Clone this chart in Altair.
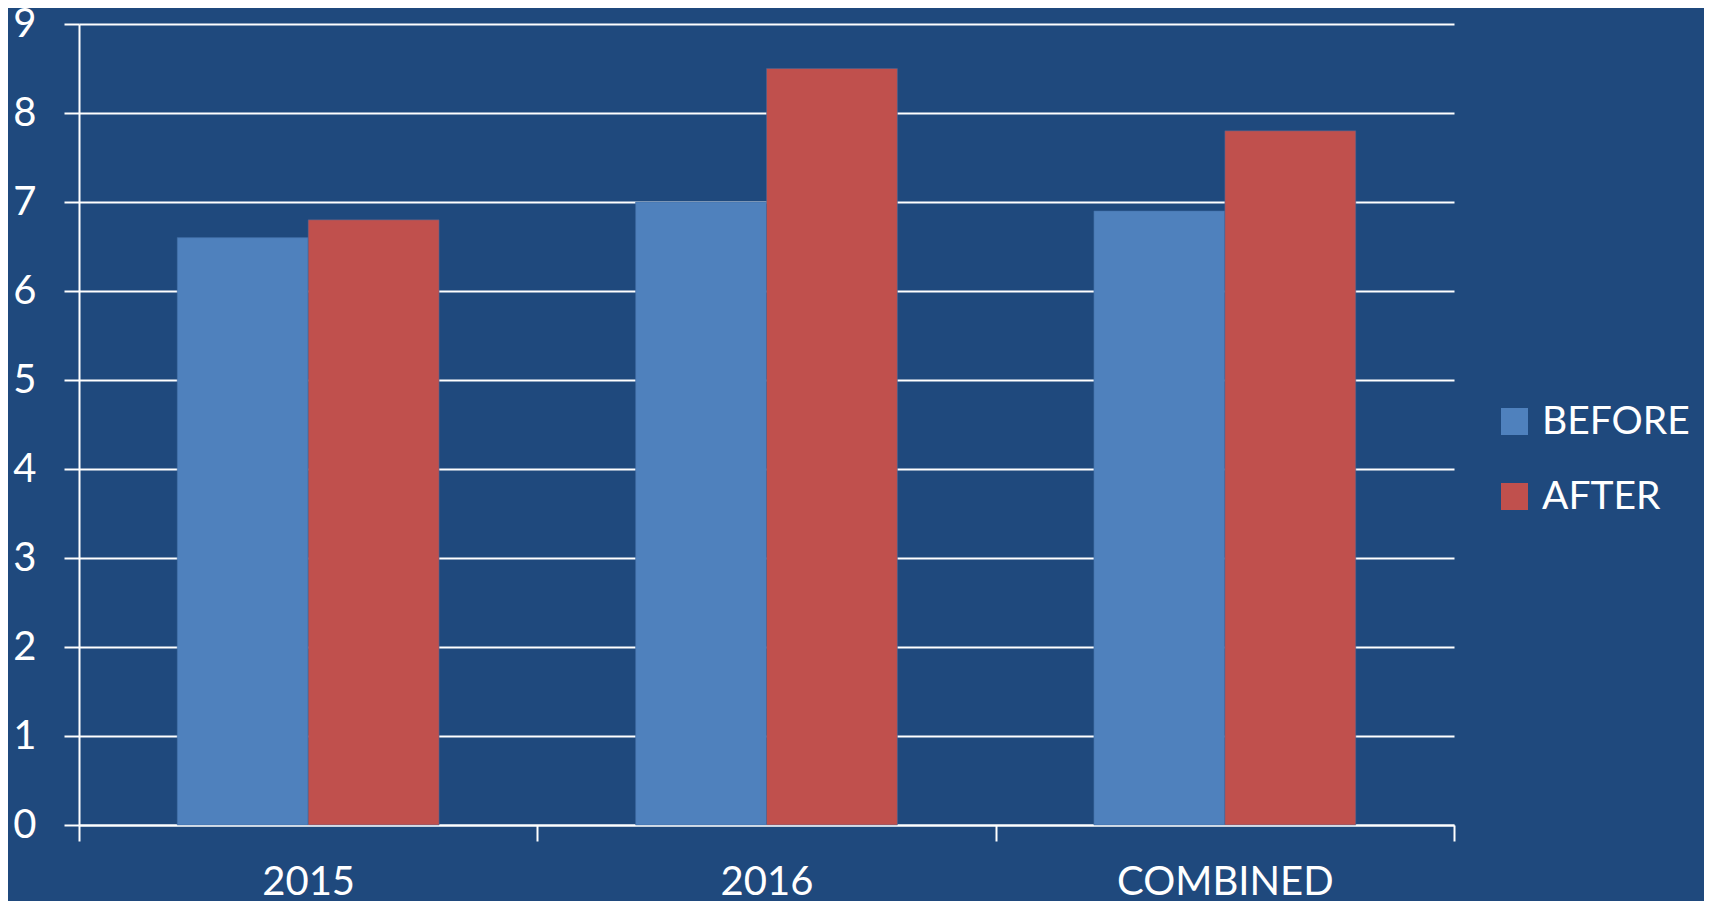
import altair as alt
import pandas as pd

categories = ["2015", "2016", "COMBINED"]
series = ["BEFORE", "AFTER"]
before_values = [6.6, 7.0, 6.9]
after_values = [6.8, 8.5, 7.8]
colors = ["#4F81BD", "#C0504D"]

rows = []
for c, b, a in zip(categories, before_values, after_values):
    rows.append({"category": c, "series": "BEFORE", "value": b})
    rows.append({"category": c, "series": "AFTER", "value": a})
df = pd.DataFrame(rows)

FONT = "Lato"
BG = "#1F497D"

chart = alt.Chart(df).mark_bar(stroke="#3d6aa0", strokeWidth=0.8, strokeOpacity=0.6).encode(
    x=alt.X("category:N", sort=categories, title=None,
            scale=alt.Scale(paddingInner=0, paddingOuter=0),
            axis=alt.Axis(labelAngle=0, tickBand="extent", tickSize=16, tickColor="white",
                          tickWidth=2, domainColor="white", domainWidth=2,
                          labelColor="white", labelFontSize=40, labelFont=FONT,
                          labelPadding=21, labelLimit=500, grid=False)),
    xOffset=alt.XOffset("series:N", sort=series,
                        scale=alt.Scale(paddingInner=0, paddingOuter=0.75)),
    y=alt.Y("value:Q", title=None,
            scale=alt.Scale(domain=[0, 9], nice=False),
            axis=alt.Axis(values=list(range(0, 10)), tickSize=15, tickColor="white",
                          tickWidth=2, domainColor="white", domainWidth=2,
                          gridColor="white", gridWidth=2, gridOpacity=1,
                          labelColor="white", labelFontSize=40, labelFont=FONT,
                          labelPadding=28)),
    color=alt.Color("series:N", sort=series,
                    scale=alt.Scale(domain=series, range=colors),
                    legend=alt.Legend(title=None, orient="none", legendX=1416, legendY=378,
                                      symbolType="square", symbolSize=729,
                                      symbolStrokeWidth=0, labelColor="white",
                                      labelFontSize=39, labelFont=FONT, labelOffset=8,
                                      rowPadding=35, labelLimit=400)),
).properties(
    width=1375,
    height=801,
    background=BG,
    padding={"left": 71, "top": 16, "right": 250, "bottom": 76},
    autosize=alt.AutoSizeParams(type="none"),
).configure_view(stroke=None, fill=BG)

chart.save("out.html", embed_options={"renderer": "svg", "actions": False})
